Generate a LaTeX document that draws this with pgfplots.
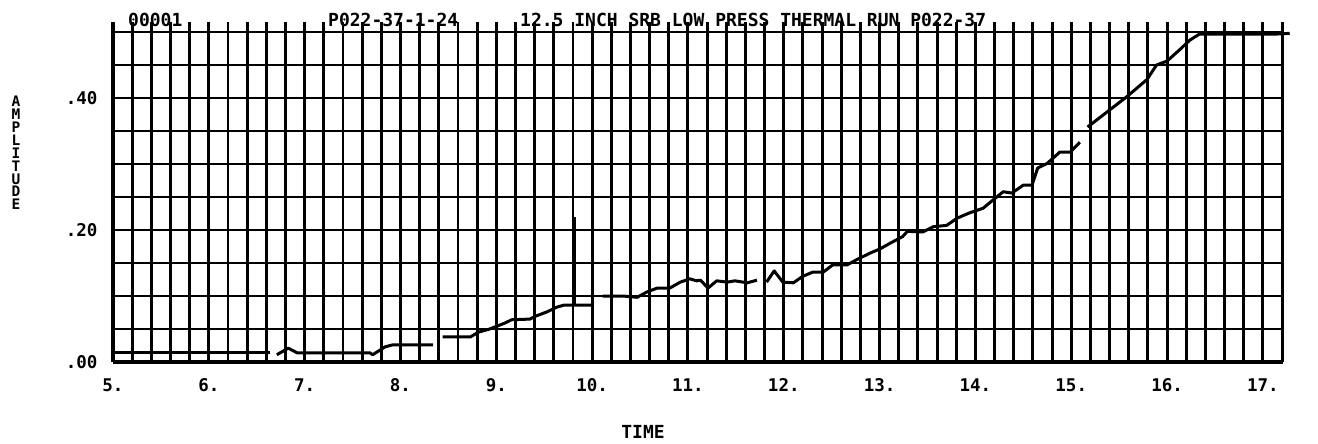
\documentclass[border=0pt]{standalone}
\usepackage{pgfplots}
\pgfplotsset{compat=1.18}
\usepackage{fontspec}
\setmainfont{DejaVu Sans Mono}
\begin{document}
\begin{tikzpicture}[x=1pt,y=1pt]
\useasboundingbox (0,0) rectangle (1318,444);
\begin{axis}[
  at={(113pt,82pt)}, anchor=south west,
  width=1170pt, height=340pt, scale only axis,
  xmin=5, xmax=17.21, ymin=0, ymax=0.5152,
  clip=false,
  axis x line*=bottom, axis y line*=left,
  axis line style={-, line width=3.4pt, black},
  xtick={5,6,...,17},
  xticklabels={5.,6.,7.,8.,9.,10.,11.,12.,13.,14.,15.,16.,17.},
  minor xtick={5,5.2,...,17.1},
  ytick={0,0.2,0.4},
  yticklabels={.00,.20,.40},
  minor ytick={0,0.05,...,0.51},
  extra x ticks={17.21}, extra x tick labels={{}},
  extra x tick style={grid=major, major grid style={black, line width=2pt}},
  grid=both,
  major grid style={black, line width=2.9pt},
  minor grid style={black, line width=2.9pt},
  major tick length=0pt, minor tick length=0pt,
  tick label style={font=\fontsize{17.5}{17.5}\selectfont\bfseries},
  xticklabel style={anchor=north, yshift=-13pt},
  yticklabel style={anchor=east, xshift=-12pt},
]
% data segments
\addplot[black, line width=3pt, line join=round] coordinates {
(5.00,0.014) (6.64,0.014)};
\addplot[black, line width=3pt, line join=round] coordinates {
(6.71,0.011) (6.83,0.021) (6.92,0.014) (7.68,0.014) (7.71,0.011)
(7.84,0.023) (7.92,0.026) (8.34,0.026)};
\addplot[black, line width=3pt, line join=round] coordinates {
(8.44,0.038) (8.73,0.038) (8.81,0.045) (8.93,0.050) (9.09,0.059)
(9.16,0.064) (9.35,0.065) (9.42,0.070) (9.53,0.076) (9.63,0.083)
(9.70,0.086) (10.00,0.086)};
\addplot[black, line width=3.2pt] coordinates {
(9.81,0.086) (9.81,0.220)};
\addplot[black, line width=3pt, line join=round] coordinates {
(10.11,0.100) (10.32,0.100) (10.47,0.098) (10.57,0.106) (10.68,0.112)
(10.81,0.112) (10.92,0.121) (11.02,0.126) (11.09,0.123) (11.13,0.124)
(11.21,0.112) (11.30,0.123) (11.41,0.121) (11.49,0.123) (11.62,0.120)
(11.72,0.124)};
\addplot[black, line width=3pt, line join=round] coordinates {
(11.82,0.121) (11.90,0.138) (11.99,0.121) (12.10,0.120) (12.20,0.130)
(12.30,0.136) (12.41,0.136) (12.51,0.147) (12.66,0.147) (12.76,0.155)
(12.90,0.165) (13.00,0.171) (13.11,0.180) (13.24,0.190) (13.29,0.198)
(13.45,0.197) (13.56,0.205) (13.70,0.207) (13.81,0.218) (13.94,0.226)
(14.08,0.233) (14.18,0.245) (14.29,0.258) (14.38,0.256) (14.50,0.268)
(14.59,0.268) (14.65,0.294) (14.75,0.301) (14.88,0.318) (14.99,0.318)
(15.09,0.333)};
\addplot[black, line width=3pt, line join=round] coordinates {
(15.17,0.356) (15.58,0.402) (15.79,0.428) (15.89,0.450) (16.00,0.456)
(16.13,0.473) (16.24,0.488) (16.34,0.497) (17.15,0.497) (17.28,0.498)};
\end{axis}
\begin{scope}[font=\fontsize{18}{18}\selectfont\bfseries]
\node[anchor=west, inner sep=0] at (128,424) {00001};
\node[anchor=west, inner sep=0] at (328,424) {P022-37-1-24};
\node[anchor=west, inner sep=0] at (520,424) {12.5 INCH SRB LOW PRESS THERMAL RUN P022-37};
\node[inner sep=0] at (643,12) {TIME};
\end{scope}
\node[inner sep=0, align=center, font=\fontsize{14.5}{12.9}\selectfont\bfseries] at (16,291) {A\\M\\P\\L\\I\\T\\U\\D\\E};
\end{tikzpicture}
\end{document}
